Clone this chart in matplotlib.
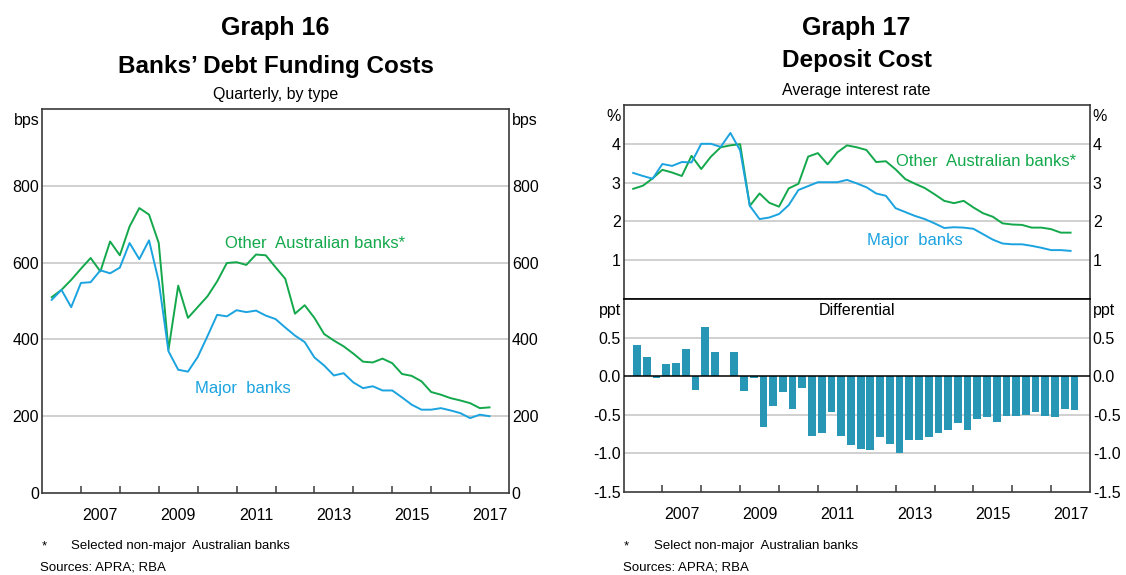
"""
RBA-style pair: Graph 16 (debt funding costs) and Graph 17 (deposit cost).
"""

import numpy as np
import pandas as pd
import matplotlib
matplotlib.use("Agg")
import matplotlib.pyplot as plt
from matplotlib.transforms import blended_transform_factory

plt.rcParams['font.family'] = ['Liberation Sans', 'DejaVu Sans']
plt.rcParams['axes.unicode_minus'] = False

# quarterly observations, Mar 2006 .. Jun 2017
quarters = pd.date_range("2006-03-31", "2017-06-30", freq="QE")

# Graph 16, bps
funding_major = [503, 529, 484, 547, 549, 580, 572, 587, 651, 609, 658, 551,
                 369, 321, 316, 354, 408, 464, 460, 476, 471, 475, 462, 453,
                 431, 410, 393, 353, 332, 306, 312, 288, 273, 278, 267, 267,
                 249, 230, 217, 217, 221, 215, 208, 195, 204, 200]
funding_other = [510, 529, 555, 584, 612, 577, 655, 619, 694, 742, 725, 651,
                 373, 540, 456, 484, 512, 551, 599, 601, 594, 621, 619, 588,
                 558, 467, 489, 456, 414, 397, 382, 363, 342, 340, 350, 338,
                 310, 305, 291, 263, 256, 247, 241, 234, 221, 223]

# Graph 17, per cent
deposit_major = [3.25, 3.17, 3.10, 3.48, 3.43, 3.53, 3.52, 4.00, 4.00, 3.92, 4.28, 3.83,
                 2.40, 2.06, 2.10, 2.19, 2.42, 2.81, 2.91, 3.01, 3.01, 3.01, 3.07, 2.98,
                 2.88, 2.72, 2.66, 2.34, 2.24, 2.14, 2.06, 1.95, 1.83, 1.85, 1.84, 1.81,
                 1.67, 1.53, 1.43, 1.41, 1.41, 1.37, 1.32, 1.26, 1.26, 1.24]
deposit_other = [2.84, 2.92, 3.11, 3.33, 3.26, 3.17, 3.69, 3.35, 3.67, 3.91, 3.96, 3.99,
                 2.40, 2.72, 2.48, 2.38, 2.85, 2.97, 3.67, 3.76, 3.47, 3.78, 3.96, 3.91,
                 3.84, 3.53, 3.55, 3.34, 3.09, 2.97, 2.86, 2.70, 2.53, 2.47, 2.53, 2.36,
                 2.21, 2.12, 1.95, 1.92, 1.91, 1.84, 1.84, 1.80, 1.71, 1.71]
# differential, ppt
differential = [0.40, 0.25, -0.02, 0.16, 0.17, 0.35, -0.18, 0.64, 0.31, 0.005, 0.31, -0.19,
                -0.02, -0.66, -0.38, -0.20, -0.43, -0.15, -0.78, -0.74, -0.46, -0.77, -0.89, -0.94,
                -0.95, -0.79, -0.88, -1.00, -0.83, -0.82, -0.79, -0.74, -0.70, -0.61, -0.70, -0.56,
                -0.53, -0.59, -0.51, -0.52, -0.50, -0.46, -0.52, -0.53, -0.43, -0.44]

year_labels = ['2007', '2009', '2011', '2013', '2015', '2017']

GREEN = '#13a84b'
BLUE = '#1ba3e0'
BAR = '#2896b5'
GRID = '#c8c8c8'
SPINE = '#3a3a3a'

t = quarters.year + quarters.month / 12.0

W, H = 1126, 575
fig = plt.figure(figsize=(W / 100, H / 100), dpi=100)


def ax_rect(x0, x1, y0, y1):
    # pixel box -> figure fraction
    return [x0 / W, 1 - y1 / H, (x1 - x0) / W, (y1 - y0) / H]


def ftext(x, y, s, **kw):
    fig.text(x / W, 1 - y / H, s, **kw)


def style_axes(ax, yticks, ylabels, ylim, unit, xaxis=True):
    ax.set_xlim(2006, 2018)
    ax.set_ylim(*ylim)
    for sp in ax.spines.values():
        sp.set_color(SPINE)
        sp.set_linewidth(1.2)
    ax.set_yticks(yticks)
    ax.set_yticklabels(ylabels)
    ax.tick_params(axis='y', length=0, labelleft=True, labelright=True,
                   labelsize=11.5, pad=2, colors='black')
    for y in yticks:
        if ylim[0] < y < ylim[1] and y != 0:
            ax.axhline(y, color=GRID, lw=1.2, zorder=0)
    tr = blended_transform_factory(ax.transAxes, ax.transData)
    ax.annotate(unit, (0, ylim[1]), xycoords=tr, xytext=(-2, -3),
                textcoords='offset points', ha='right', va='top', fontsize=11.5)
    ax.annotate(unit, (1, ylim[1]), xycoords=tr, xytext=(2, -3),
                textcoords='offset points', ha='left', va='top', fontsize=11.5)
    if xaxis:
        ax.set_xticks(np.arange(2007, 2018))
        ax.set_xticklabels([])
        ax.set_xticks([int(y) + 0.5 for y in year_labels], minor=True)
        ax.set_xticklabels(year_labels, minor=True)
        ax.tick_params(axis='x', which='major', direction='in', length=5,
                       width=1.1, color=SPINE)
        ax.tick_params(axis='x', which='minor', length=0, labelsize=11.5, pad=11)
    else:
        ax.set_xticks([])


# ---------------- Graph 16 ----------------
ax1 = fig.add_axes(ax_rect(42, 509, 109, 493))
ax1.plot(t, funding_other, color=GREEN, lw=1.4)
ax1.plot(t, funding_major, color=BLUE, lw=1.4)
style_axes(ax1, [0, 200, 400, 600, 800], ['0', '200', '400', '600', '800'],
           (0, 1000), 'bps')
ax1.text(2010.69, 650, 'Other  Australian banks*', color=GREEN, fontsize=12,
         va='center', ha='left')
ax1.text(2009.93, 272, 'Major  banks', color=BLUE, fontsize=12,
         va='center', ha='left')

ftext(275.5, 28, 'Graph 16', ha='center', va='center', fontsize=18, fontweight='bold')
ftext(275.5, 66, 'Banks\u2019 Debt Funding Costs', ha='center', va='center',
      fontsize=17.5, fontweight='bold')
ftext(275.5, 95, 'Quarterly, by type', ha='center', va='center', fontsize=11.5)
ftext(42, 546, '*', ha='left', va='center', fontsize=9.5)
ftext(71, 546, 'Selected non-major  Australian banks', ha='left', va='center', fontsize=9.5)
ftext(40, 567, 'Sources: APRA; RBA', ha='left', va='center', fontsize=9.5)

# ---------------- Graph 17 ----------------
ax2 = fig.add_axes(ax_rect(623.5, 1090, 105, 299))
ax2.plot(t, deposit_other, color=GREEN, lw=1.4)
ax2.plot(t, deposit_major, color=BLUE, lw=1.4)
style_axes(ax2, [1, 2, 3, 4], ['1', '2', '3', '4'], (0, 5), '%', xaxis=False)
ax2.text(2013.0, 3.55, 'Other  Australian banks*', color=GREEN, fontsize=12,
         va='center', ha='left')
ax2.text(2012.27, 1.5, 'Major  banks', color=BLUE, fontsize=12,
         va='center', ha='left')

ax3 = fig.add_axes(ax_rect(623.5, 1090, 299, 492))
ax3.bar(t, differential, width=0.2, align='edge', color=BAR, zorder=2)
style_axes(ax3, [-1.5, -1.0, -0.5, 0.0, 0.5],
           ['-1.5', '-1.0', '-0.5', '0.0', '0.5'], (-1.5, 1.0), 'ppt')
ax3.axhline(0, color='black', lw=1.1, zorder=3)
ax3.text(0.5, 0.98, 'Differential', transform=ax3.transAxes, ha='center',
         va='top', fontsize=11.5)
ax3.spines['top'].set_color('black')

ftext(856.75, 28, 'Graph 17', ha='center', va='center', fontsize=18, fontweight='bold')
ftext(856.75, 61, 'Deposit Cost', ha='center', va='center',
      fontsize=17.5, fontweight='bold')
ftext(856.75, 90, 'Average interest rate', ha='center', va='center', fontsize=11.5)
ftext(624, 546, '*', ha='left', va='center', fontsize=9.5)
ftext(654, 546, 'Select non-major  Australian banks', ha='left', va='center', fontsize=9.5)
ftext(623, 567, 'Sources: APRA; RBA', ha='left', va='center', fontsize=9.5)

fig.savefig('out.png', dpi=100)
